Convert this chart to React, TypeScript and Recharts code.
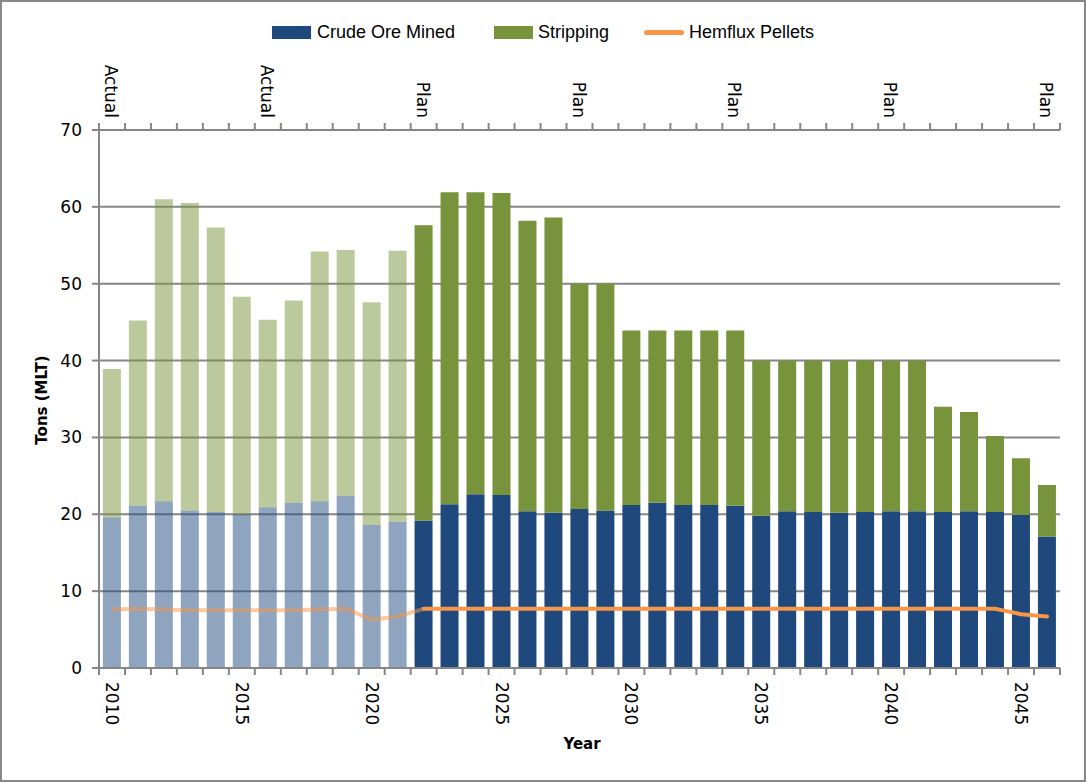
import React from "react";
import { ComposedChart, Bar, Line, XAxis, YAxis, CartesianGrid, Cell } from "recharts";

const years = [
  "2010", "2011", "2012", "2013", "2014", "2015", "2016", "2017", "2018", "2019",
  "2020", "2021", "2022", "2023", "2024", "2025", "2026", "2027", "2028", "2029",
  "2030", "2031", "2032", "2033", "2034", "2035", "2036", "2037", "2038", "2039",
  "2040", "2041", "2042", "2043", "2044", "2045", "2046",
];

const oreMined = [
  19.6, 21.1, 21.7, 20.5, 20.3, 20.0, 20.9, 21.5, 21.7, 22.4,
  18.6, 19.0, 19.2, 21.3, 22.6, 22.5, 20.4, 20.2, 20.7, 20.5,
  21.2, 21.5, 21.2, 21.2, 21.1, 19.8, 20.4, 20.3, 20.2, 20.3,
  20.4, 20.4, 20.3, 20.4, 20.3, 19.9, 17.1,
];

const stripping = [
  19.3, 24.1, 39.3, 40.0, 37.0, 28.3, 24.4, 26.3, 32.5, 32.0,
  29.0, 35.3, 38.4, 40.6, 39.3, 39.3, 37.8, 38.4, 29.3, 29.5,
  22.7, 22.4, 22.7, 22.7, 22.8, 20.2, 19.6, 19.7, 19.8, 19.7,
  19.6, 19.6, 13.7, 12.9, 9.9, 7.4, 6.7,
];

const pellets = [
  7.6, 7.7, 7.6, 7.5, 7.5, 7.5, 7.5, 7.5, 7.6, 7.7,
  6.3, 6.7, 7.7, 7.7, 7.7, 7.7, 7.7, 7.7, 7.7, 7.7,
  7.7, 7.7, 7.7, 7.7, 7.7, 7.7, 7.7, 7.7, 7.7, 7.7,
  7.7, 7.7, 7.7, 7.7, 7.7, 7.0, 6.7,
];

// first 12 years (2010-2021) are actuals, drawn faded
const actualCount = 12;

const phaseTicks = ["2010", "2016", "2022", "2028", "2034", "2040", "2046"];
const phaseNames = ["Actual", "Actual", "Plan", "Plan", "Plan", "Plan", "Plan"];
const yearTicks = ["2010", "2015", "2020", "2025", "2030", "2035", "2040", "2045"];
const yTicks = [0, 10, 20, 30, 40, 50, 60, 70];

const W = 1086;
const H = 782;
const PLOT_L = 99;
const PLOT_R = 1060;
const BAND = (PLOT_R - PLOT_L) / years.length;

const GRID = "#868686";
const ORE = "#1F497D";
const STRIP = "#77933C";
const PELLET = "#F79646";
const TICK_FONT = "'DejaVu Sans', Verdana, sans-serif";
const LEGEND_FONT = "'Liberation Sans', Arial, sans-serif";

const data = years.map((year, i) => ({
  year,
  ore: oreMined[i],
  strip: stripping[i],
  pelletActual: i <= actualCount ? pellets[i] : null,
  pelletPlan: i >= actualCount ? pellets[i] : null,
}));

const BottomTick = (props: any) => {
  const { x, y, payload } = props;
  const idx = years.indexOf(payload.value);
  const showLabel = yearTicks.includes(payload.value);
  return (
    <g>
      <line x1={x - BAND / 2} x2={x - BAND / 2} y1={y} y2={y + 7} stroke={GRID} strokeWidth={2} />
      {idx === years.length - 1 && (
        <line x1={x + BAND / 2} x2={x + BAND / 2} y1={y} y2={y + 7} stroke={GRID} strokeWidth={2} />
      )}
      {showLabel && (
        <text
          x={x}
          y={y + 14}
          transform={`rotate(90, ${x}, ${y + 14})`}
          textAnchor="start"
          dominantBaseline="central"
          fontFamily={TICK_FONT}
          fontSize={17}
          fill="#000"
        >
          {payload.value}
        </text>
      )}
    </g>
  );
};

const TopTick = (props: any) => {
  const { x, y, payload } = props;
  const idx = years.indexOf(payload.value);
  const p = phaseTicks.indexOf(payload.value);
  return (
    <g>
      <line x1={x - BAND / 2} x2={x - BAND / 2} y1={y} y2={y - 7} stroke={GRID} strokeWidth={2} />
      {idx === years.length - 1 && (
        <line x1={x + BAND / 2} x2={x + BAND / 2} y1={y} y2={y - 7} stroke={GRID} strokeWidth={2} />
      )}
      {p >= 0 && (
        <text
          x={x - 1}
          y={y - 12}
          transform={`rotate(90, ${x - 1}, ${y - 12})`}
          textAnchor="end"
          dominantBaseline="central"
          fontFamily={TICK_FONT}
          fontSize={17}
          fill="#000"
        >
          {phaseNames[p]}
        </text>
      )}
    </g>
  );
};

const legendText: React.CSSProperties = {
  position: "absolute",
  top: 20,
  fontFamily: LEGEND_FONT,
  fontSize: 18,
  lineHeight: "24px",
  color: "#000",
  whiteSpace: "nowrap",
};

export default function App() {
  return (
    <div style={{ position: "absolute", left: 0, top: 0, width: W, height: H, background: "#fff" }}>
      <ComposedChart
        width={W}
        height={H}
        data={data}
        margin={{ top: 0, right: W - PLOT_R, bottom: 0, left: 0 }}
        barCategoryGap="15%"
      >
        <CartesianGrid horizontal vertical={false} stroke={GRID} strokeWidth={2} />
        <XAxis
          dataKey="year"
          height={114}
          interval={0}
          tickSize={0}
          tickMargin={0}
          tickLine={false}
          axisLine={{ stroke: GRID, strokeWidth: 2 }}
          tick={<BottomTick />}
        />
        <XAxis
          xAxisId="top"
          orientation="top"
          dataKey="year"
          height={130}
          interval={0}
          tickSize={0}
          tickMargin={0}
          tickLine={false}
          axisLine={{ stroke: GRID, strokeWidth: 2 }}
          tick={<TopTick />}
        />
        <YAxis
          width={PLOT_L}
          domain={[0, 70]}
          ticks={yTicks}
          interval={0}
          tickSize={7}
          tickMargin={10}
          tickLine={{ stroke: GRID, strokeWidth: 2 }}
          axisLine={{ stroke: GRID, strokeWidth: 2 }}
          tick={{ fill: "#000", fontSize: 17, fontFamily: TICK_FONT }}
        />
        <Bar dataKey="ore" name="Crude Ore Mined" stackId="a" fill={ORE} isAnimationActive={false}>
          {data.map((d, i) => (
            <Cell key={d.year} fill={ORE} fillOpacity={i < actualCount ? 0.5 : 1} />
          ))}
        </Bar>
        <Bar dataKey="strip" name="Stripping" stackId="a" fill={STRIP} isAnimationActive={false}>
          {data.map((d, i) => (
            <Cell key={d.year} fill={STRIP} fillOpacity={i < actualCount ? 0.5 : 1} />
          ))}
        </Bar>
        <Line
          dataKey="pelletActual"
          name="Hemflux Pellets"
          stroke={PELLET}
          strokeOpacity={0.5}
          strokeWidth={4}
          dot={false}
          connectNulls={false}
          legendType="none"
          isAnimationActive={false}
        />
        <Line
          dataKey="pelletPlan"
          name="Hemflux Pellets"
          stroke={PELLET}
          strokeWidth={4}
          strokeLinecap="round"
          dot={false}
          isAnimationActive={false}
        />
      </ComposedChart>

      {/* legend */}
      <div style={{ position: "absolute", left: 272, top: 26, width: 39, height: 13, background: ORE }} />
      <div style={{ ...legendText, left: 317 }}>Crude Ore Mined</div>
      <div style={{ position: "absolute", left: 494, top: 26, width: 39, height: 13, background: STRIP }} />
      <div style={{ ...legendText, left: 538 }}>Stripping</div>
      <div style={{ position: "absolute", left: 644, top: 30, width: 40, height: 5, borderRadius: 3, background: PELLET }} />
      <div style={{ ...legendText, left: 689 }}>Hemflux Pellets</div>

      {/* axis titles */}
      <div
        style={{
          position: "absolute",
          left: 42,
          top: 400,
          transform: "translate(-50%, -50%) rotate(-90deg)",
          fontFamily: TICK_FONT,
          fontWeight: "bold",
          fontSize: 15,
          whiteSpace: "nowrap",
        }}
      >
        Tons (MLT)
      </div>
      <div
        style={{
          position: "absolute",
          left: 582,
          top: 744,
          transform: "translate(-50%, -50%)",
          fontFamily: TICK_FONT,
          fontWeight: "bold",
          fontSize: 15,
          whiteSpace: "nowrap",
        }}
      >
        Year
      </div>

      <div
        style={{
          position: "absolute",
          left: 0,
          top: 0,
          width: W,
          height: H,
          boxSizing: "border-box",
          border: "2px solid #888",
          pointerEvents: "none",
        }}
      />
    </div>
  );
}
